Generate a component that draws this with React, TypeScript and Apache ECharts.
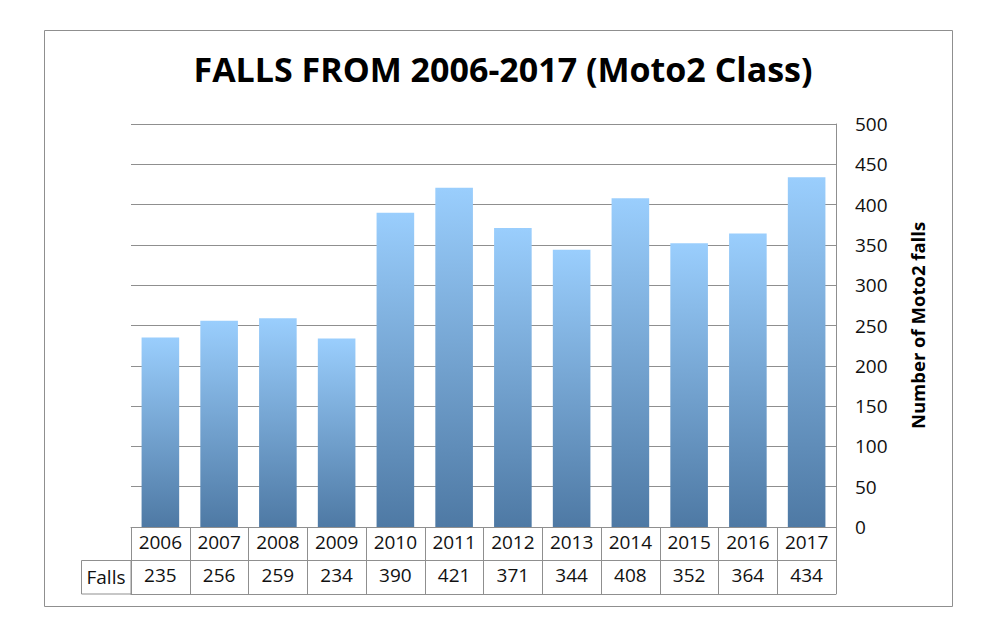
import { useEffect, useRef } from "react";
import * as echarts from "echarts";

const years = ["2006", "2007", "2008", "2009", "2010", "2011", "2012", "2013", "2014", "2015", "2016", "2017"];
const falls = [235, 256, 259, 234, 390, 421, 371, 344, 408, 352, 364, 434];
const rowLabel = "Falls";
const titleText = "FALLS FROM 2006-2017 (Moto2 Class)";
const yName = "Number of Moto2 falls";

const FONT = "'Open Sans', sans-serif";
const LINE = "#8f8f8f";

export default function App() {
    const chartRef = useRef<HTMLDivElement | null>(null);

    useEffect(() => {
        if (!chartRef.current) return;
        const chart = echarts.init(chartRef.current, null, { renderer: "svg" });

        const option: echarts.EChartsOption = {
            animation: false,
            backgroundColor: "#fff",
            textStyle: { fontFamily: FONT },
            title: {
                text: titleText,
                left: 498,
                top: 47,
                textAlign: "center",
                textStyle: { fontFamily: FONT, fontSize: 34, fontWeight: "bold", color: "#000" },
            },
            grid: { left: 131, right: 146, top: 124, bottom: 95 },
            xAxis: [
                {
                    type: "category",
                    data: years,
                    position: "bottom",
                    axisLine: { show: true, lineStyle: { color: LINE, width: 1 } },
                    axisTick: { show: true, length: 67, lineStyle: { color: LINE, width: 1 } },
                    axisLabel: { interval: 0, color: "#111", fontSize: 19, margin: 5 },
                    splitLine: { show: false },
                },
                {
                    type: "category",
                    data: falls.map(String),
                    position: "bottom",
                    offset: 33,
                    axisLine: { show: true, lineStyle: { color: LINE, width: 1 } },
                    axisTick: { show: false },
                    axisLabel: { interval: 0, color: "#111", fontSize: 19, margin: 5 },
                    splitLine: { show: false },
                },
                {
                    type: "category",
                    data: years,
                    position: "bottom",
                    offset: 67,
                    axisLine: { show: true, lineStyle: { color: LINE, width: 1 } },
                    axisTick: { show: false },
                    axisLabel: { show: false },
                    splitLine: { show: false },
                },
            ],
            yAxis: {
                type: "value",
                position: "right",
                min: 0,
                max: 500,
                interval: 50,
                axisLine: { show: true, lineStyle: { color: LINE, width: 1 } },
                axisTick: { show: false },
                axisLabel: { color: "#111", fontSize: 19, margin: 19, align: "left" },
                splitLine: { lineStyle: { color: LINE, width: 1 } },
                name: yName,
                nameLocation: "middle",
                nameRotate: 90,
                nameGap: 72,
                nameTextStyle: { color: "#000", fontSize: 18.5, fontWeight: "bold", fontFamily: FONT },
            },
            series: [
                {
                    type: "bar",
                    data: falls,
                    barWidth: "64%",
                    itemStyle: {
                        color: new echarts.graphic.LinearGradient(0, 0, 0, 1, [
                            { offset: 0, color: "#9ACEFD" },
                            { offset: 1, color: "#4E79A4" },
                        ]),
                    },
                },
            ],
            graphic: [
                {
                    type: "rect",
                    shape: { x: 44.5, y: 30.5, width: 908, height: 576 },
                    style: { fill: "none", stroke: LINE, lineWidth: 1 },
                    silent: true,
                },
                {
                    type: "rect",
                    shape: { x: 81.5, y: 560.5, width: 49.5, height: 33.5 },
                    style: { fill: "none", stroke: LINE, lineWidth: 1 },
                    silent: true,
                },
                {
                    type: "text",
                    x: 106,
                    y: 577,
                    style: {
                        text: rowLabel,
                        fontFamily: FONT,
                        fontSize: 19,
                        fill: "#111",
                        align: "center",
                        verticalAlign: "middle",
                    },
                },
            ],
        };

        chart.setOption(option);
        return () => chart.dispose();
    }, []);

    return (
        <div
            ref={chartRef}
            style={{ position: "fixed", left: 0, top: 0, width: 982, height: 622 }}
        />
    );
}
